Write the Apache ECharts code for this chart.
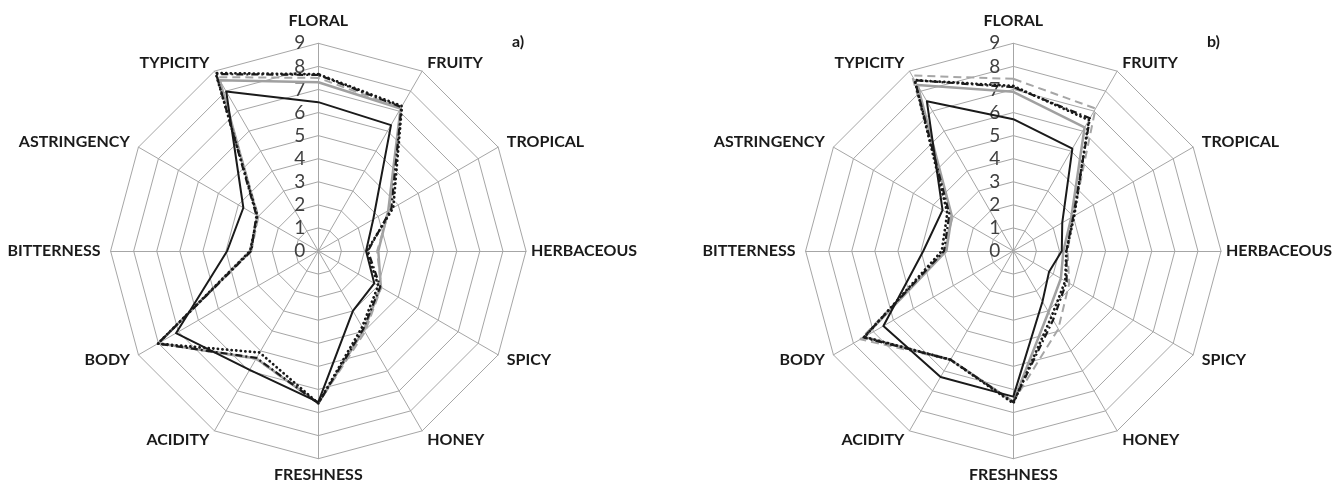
<!DOCTYPE html>
<html>
<head>
<meta charset="utf-8">
<script src="https://cdn.jsdelivr.net/npm/echarts@6/dist/echarts.min.js"></script>
<style>
html,body{margin:0;padding:0;background:#fff;}
#chart{width:1335px;height:487px;}
</style>
</head>
<body>
<div id="chart"></div>
<script>
// Attributes in clockwise order starting at the top
const attributes = ['FLORAL','FRUITY','TROPICAL','HERBACEOUS','SPICY','HONEY','FRESHNESS','ACIDITY','BODY','BITTERNESS','ASTRINGENCY','TYPICITY'];
const scaleTicks = ['0','1','2','3','4','5','6','7','8','9'];
const panelLabels = ['a)','b)'];

// Panel a)
const aBlackSolid = [6.45, 6.3, 2.75, 2.07, 2.8, 3.0, 6.55, 5.95, 7.12, 3.95, 3.75, 7.98];
const aGraySolid  = [7.31, 7.13, 3.5, 2.6, 3.13, 3.95, 6.6, 5.38, 8.0, 2.95, 3.05, 8.54];
const aDotted     = [7.66, 7.25, 3.75, 2.1, 3.0, 3.8, 6.6, 5.08, 8.03, 2.95, 3.05, 8.9];
const aDashDot    = [7.63, 7.2, 3.65, 2.15, 3.1, 3.9, 6.6, 5.35, 8.03, 2.9, 3.1, 8.85];
const aGrayDashed = [7.5, 7.15, 3.55, 2.55, 3.15, 4.05, 6.6, 5.4, 8.0, 2.9, 3.0, 8.7];

// Panel b)
const bBlackSolid = [5.71, 5.12, 2.45, 2.1, 1.79, 2.53, 6.31, 6.3, 6.5, 3.9, 3.54, 7.49];
const bGraySolid  = [6.9, 6.18, 2.9, 2.17, 2.38, 3.05, 6.53, 5.44, 7.45, 2.9, 3.08, 8.3];
const bDotted     = [7.15, 6.55, 3.05, 2.3, 2.6, 3.3, 6.6, 5.44, 7.45, 3.1, 3.3, 8.55];
const bDashDot    = [7.1, 6.64, 3.0, 2.3, 2.67, 3.45, 6.55, 5.44, 7.5, 3.0, 3.2, 8.54];
const bGrayDashed = [7.46, 7.13, 3.0, 2.35, 2.8, 3.9, 6.53, 5.44, 7.65, 2.96, 3.1, 8.78];

// ECharts places indicators counter-clockwise; reorder to get clockwise layout
const order = [0,11,10,9,8,7,6,5,4,3,2,1];
const reorder = arr => order.map(i => arr[i]);
const nameGaps = {FLORAL:14, HERBACEOUS:5, FRESHNESS:8};

function indicators(){
  return order.map((i, k) => {
    const name = attributes[i];
    const ind = {name: name, min: 0, max: 9, nameGap: nameGaps[name] != null ? nameGaps[name] : 10};
    if (k === 0) {
      ind.axisLabel = {
        show: true, color: '#404040', fontFamily: 'Lato', fontSize: 19, margin: 13,
        formatter: v => scaleTicks[Math.round(v)] != null ? scaleTicks[Math.round(v)] : ''
      };
    }
    return ind;
  });
}

function radarComp(cx){
  return {
    center: [cx, 251],
    radius: 207.7,
    startAngle: 90,
    shape: 'polygon',
    splitNumber: 9,
    indicator: indicators(),
    axisName: {color: '#1a1a1a', fontFamily: 'Lato', fontWeight: 'bold', fontSize: 16},
    axisLine: {show: true, lineStyle: {color: '#a6a6a6', width: 1}},
    splitLine: {lineStyle: {color: '#a6a6a6', width: 1}},
    splitArea: {show: false},
    axisTick: {show: false},
    axisLabel: {show: false}
  };
}

const styles = [
  {key: 'graySolid',  line: {color: '#a0a0a0', width: 2.5, type: 'solid'}},
  {key: 'grayDashed', line: {color: '#a6a6a6', width: 2, type: [8, 5]}},
  {key: 'dotted',     line: {color: '#1a1a1a', width: 2.8, type: [0.1, 4.5], cap: 'round'}},
  {key: 'dashDot',    line: {color: '#1a1a1a', width: 2.2, type: [7, 3, 2, 3]}},
  {key: 'blackSolid', line: {color: '#1a1a1a', width: 2, type: 'solid'}}
];
const panelData = [
  {graySolid: aGraySolid, grayDashed: aGrayDashed, dotted: aDotted, dashDot: aDashDot, blackSolid: aBlackSolid},
  {graySolid: bGraySolid, grayDashed: bGrayDashed, dotted: bDotted, dashDot: bDashDot, blackSolid: bBlackSolid}
];

const series = [];
panelData.forEach((pd, r) => {
  styles.forEach(s => {
    series.push({
      type: 'radar',
      radarIndex: r,
      symbol: 'none',
      silent: true,
      lineStyle: s.line,
      areaStyle: null,
      data: [{value: reorder(pd[s.key]), name: s.key}]
    });
  });
});

const chart = echarts.init(document.getElementById('chart'), null, {renderer: 'canvas'});
chart.setOption({
  backgroundColor: '#ffffff',
  animation: false,
  title: [
    {text: panelLabels[0], left: 507, top: 29, textStyle: {fontFamily: 'Lato', fontWeight: 'bold', fontSize: 16, color: '#1a1a1a'}},
    {text: panelLabels[1], left: 1202, top: 29, textStyle: {fontFamily: 'Lato', fontWeight: 'bold', fontSize: 16, color: '#1a1a1a'}}
  ],
  radar: [radarComp(318.3), radarComp(1013.3)],
  series: series
});
</script>
</body>
</html>
